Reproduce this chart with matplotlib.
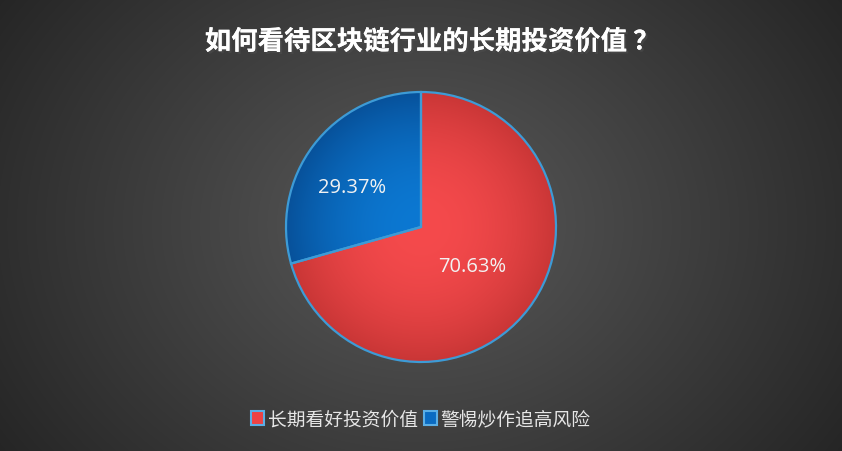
import numpy as np
import matplotlib
matplotlib.use("Agg")
import matplotlib.pyplot as plt
import matplotlib.patheffects as pe
from matplotlib.patches import Patch

plt.rcParams['font.family'] = ['Noto Sans CJK SC', 'DejaVu Sans']

TITLE = "如何看待区块链行业的长期投资价值 ？"
LABELS = ["长期看好投资价值", "警惕炒作追高风险"]
VALUES = [70.63, 29.37]
COLORS = ["#ee4244", "#0a6bc2"]
EDGE_COLORS = [("#f54a4c", "#c93636"), ("#0c78d2", "#07519a")]

W, H = 842, 452
fig = plt.figure(figsize=(W / 100, H / 100), dpi=100)
ax = fig.add_axes([0, 0, 1, 1])

# radial dark background
yy, xx = np.mgrid[0:H, 0:W]
cx, cy = 421, 226
d = np.sqrt(((xx - cx) / 520.0) ** 2 + ((yy - cy) / 420.0) ** 2)
d = np.clip(d, 0, 1)
inner = np.array([0x5a, 0x5a, 0x5a]) / 255
outer = np.array([0x24, 0x24, 0x24]) / 255
bg = inner[None, None, :] * (1 - d[..., None]) + outer[None, None, :] * d[..., None]
ax.imshow(bg, extent=[0, W, 0, H], origin="lower", zorder=0)

pcx, pcy, r = 421, 224, 135
wedges, _ = ax.pie(VALUES, colors=COLORS, startangle=90, counterclock=False,
                   center=(pcx, pcy), radius=r, frame=True,
                   wedgeprops=dict(edgecolor="#3d9bd6", linewidth=1.6))
ax.set_xlim(0, W)
ax.set_ylim(0, H)
ax.set_aspect("equal")
ax.axis("off")

# radial shading inside each wedge
rr = np.sqrt((xx - pcx) ** 2 + (yy - pcy) ** 2) / r
rr = np.clip(rr, 0, 1)
for w, (c0, c1) in zip(wedges, EDGE_COLORS):
    a = np.array(matplotlib.colors.to_rgb(c0))
    b = np.array(matplotlib.colors.to_rgb(c1))
    t = rr[..., None] ** 2
    img = a * (1 - t) + b * t
    im = ax.imshow(img, extent=[0, W, 0, H], origin="lower", zorder=1.5)
    im.set_clip_path(w)
    w.set_zorder(2)
    w.set_facecolor("none")

# percentage labels
dists = [0.48, 0.59]
angs = []
start = 90
for v in VALUES:
    span = v / sum(VALUES) * 360
    angs.append(np.deg2rad(start - span / 2))
    start -= span
angs[1] = np.deg2rad(150)
for v, a, dd in zip(VALUES, angs, dists):
    ax.text(pcx + r * dd * np.cos(a), pcy + r * dd * np.sin(a), f"{v:.2f}%",
            ha="center", va="center", color="#f2f2f2", fontsize=14.5, zorder=3,
            family=['Open Sans', 'DejaVu Sans'])

fig.text(432 / W, 1 - 43 / H, TITLE, ha="center", va="center", color="white",
         fontsize=19, fontweight="bold",
         path_effects=[pe.withSimplePatchShadow(offset=(1.5, -1.5), alpha=0.6), pe.Normal()])

handles = [Patch(facecolor=c, edgecolor="#5aaee6", linewidth=1.5) for c in COLORS]
leg = fig.legend(handles, LABELS, loc="center", bbox_to_anchor=(0.5, 1 - 420 / H),
                 ncol=2, frameon=False, fontsize=13.5, handlelength=0.7, handleheight=0.7,
                 handletextpad=0.2, columnspacing=0.3, labelcolor="#e6e6e6")

fig.savefig("out.png", dpi=100)
